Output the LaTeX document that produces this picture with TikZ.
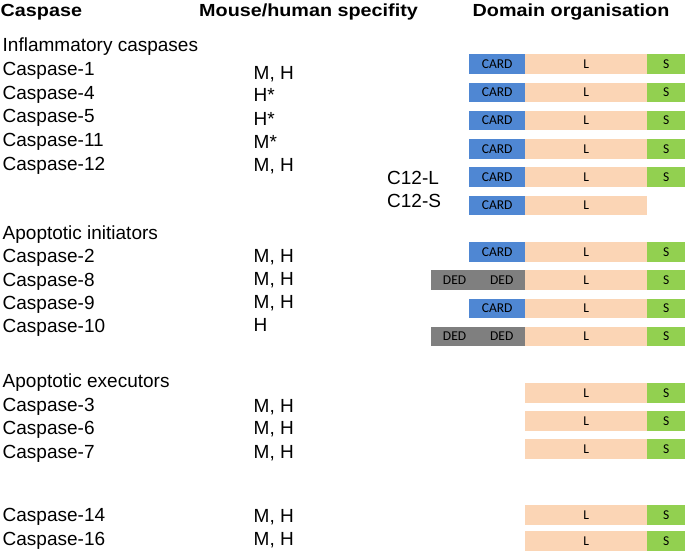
\documentclass[tikz,border=0pt]{standalone}
\usepackage{fontspec}
\usepackage{graphicx}
\setmainfont{Liberation Sans}
\newfontfamily\carl{Carlito}
\definecolor{cardblue}{HTML}{4F87D3}
\definecolor{lpeach}{HTML}{FBD5B5}
\definecolor{sgreen}{HTML}{92D050}
\definecolor{dedgray}{HTML}{7F7F7F}
\begin{document}
\begin{tikzpicture}[x=1pt,y=-1pt,
  hdr/.style={anchor=base west, inner sep=0pt, font=\bfseries\fontsize{17.5}{17.5}\selectfont},
  txt/.style={anchor=base west, inner sep=0pt, font=\fontsize{19}{23}\selectfont},
  dom/.style={inner sep=0pt, outer sep=0pt, minimum height=19.5pt, anchor=north west, font=\carl\fontsize{13.5}{13.5}\selectfont},
  cardbox/.style={dom, fill=cardblue, minimum width=56.3pt},
  lbox/.style={dom, fill=lpeach, minimum width=122pt},
  sbox/.style={dom, fill=sgreen, minimum width=37.7pt},
  dedbox/.style={dom, fill=dedgray, minimum width=94.3pt}
]
\useasboundingbox (0,0) rectangle (685,550);
\fill[white] (0,0) rectangle (685,550);

% headers
\node[hdr] (h1) at (0.5,16) {\scalebox{1.13}[1]{Caspase}};
\node[hdr] (h2) at (199,16) {\scalebox{1.13}[1]{Mouse/human specifity}};
\node[hdr] (h3) at (472.5,16) {\scalebox{1.13}[1]{Domain organisation}};

% caspase column
\foreach \t/\y [count=\i] in {Inflammatory caspases/51, Caspase-1/75.7, Caspase-4/99.3, Caspase-5/122.7, Caspase-11/146.7, Caspase-12/170, Apoptotic initiators/239.3, Caspase-2/262.7, Caspase-8/286, Caspase-9/309.3, Caspase-10/332.7, Apoptotic executors/387.5, Caspase-3/411.3, Caspase-6/434.7, Caspase-7/458, Caspase-14/521.7, Caspase-16/545}
  \node[txt] (c\i) at (2.5,\y) {\t};

% specificity column
\node[txt] (m1) at (253.5,79.3) {M, H};
\node[txt] (m2) at (253.5,101.7) {H*};
\node[txt] (m3) at (253.5,125) {H*};
\node[txt] (m4) at (253.5,148.3) {M*};
\node[txt] (m5) at (253.5,171.7) {M, H};
\node[txt] (m6) at (253.5,262.7) {M, H};
\node[txt] (m7) at (253.5,285.5) {M, H};
\node[txt] (m8) at (253.5,308.7) {M, H};
\node[txt] (m9) at (253.5,331.7) {H};
\node[txt] (m10) at (253.5,412) {M, H};
\node[txt] (m11) at (253.5,434.7) {M, H};
\node[txt] (m12) at (253.5,458) {M, H};
\node[txt] (m13) at (253.5,522) {M, H};
\node[txt] (m14) at (253.5,545) {M, H};

% isoform labels
\node[txt] (iso1) at (387,184.3) {C12-L};
\node[txt] (iso2) at (387,207.7) {C12-S};

% inflammatory: CARD-L-S
\foreach \y [count=\i] in {54.3, 82.7, 110.7, 139, 167} {
  \node[cardbox] (ic\i) at (469,\y) {CARD};
  \node[lbox] (il\i) at (525.3,\y) {L};
  \node[sbox] (is\i) at (647.3,\y) {S};
}
% C12-S: CARD-L
\node[cardbox] (ic6) at (469,195.7) {CARD};
\node[lbox] (il6) at (525.3,195.7) {L};

% apoptotic initiators
\node[cardbox] (ac1) at (469,242.3) {CARD};
\node[dedbox] (ad2) at (431,270.3) {DED\hspace{24pt}DED};
\node[cardbox] (ac3) at (469,298.7) {CARD};
\node[dedbox] (ad4) at (431,326.7) {DED\hspace{24pt}DED};
\foreach \y [count=\i] in {242.3, 270.3, 298.7, 326.7} {
  \node[lbox] (al\i) at (525.3,\y) {L};
  \node[sbox] (as\i) at (647.3,\y) {S};
}

% executors and others: L-S
\foreach \y [count=\i] in {383, 411, 439.3, 505, 531} {
  \node[lbox] (el\i) at (525.3,\y) {L};
  \node[sbox] (es\i) at (647.3,\y) {S};
}
\end{tikzpicture}
\end{document}
